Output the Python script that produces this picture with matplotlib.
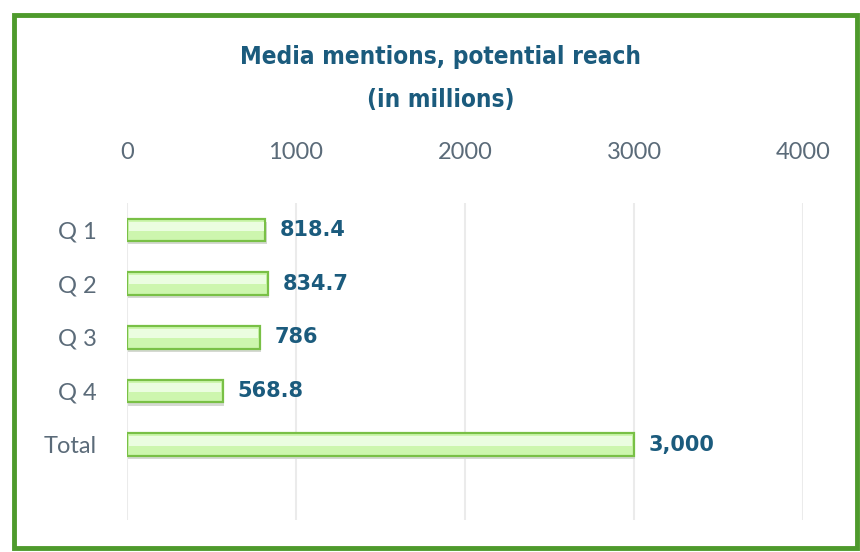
import matplotlib.pyplot as plt
from matplotlib.patches import Rectangle

categories = ['Q 1', 'Q 2', 'Q 3', 'Q 4', 'Total']
reach = [818.4, 834.7, 786, 568.8, 3000]
value_labels = ['818.4', '834.7', '786', '568.8', '3,000']
x_ticks = [0, 1000, 2000, 3000, 4000]

title_color = '#1b5b7d'
tick_color = '#5b6b79'

fig = plt.figure(figsize=(8.6, 5.52), dpi=100)
fig.patch.set_facecolor('white')

# green frame around the whole chart
frame = Rectangle((14 / 860, 4 / 552), 843 / 860, 533 / 552, transform=fig.transFigure,
                  fill=False, edgecolor='#4e9a2c', linewidth=3.5)
fig.patches.append(frame)

ax = fig.add_axes([127 / 860, 32 / 552, 676 / 860, 317 / 552])

ypos = list(range(len(categories)))
# soft shadow under bars
ax.barh([y + 0.06 for y in ypos], reach, height=0.42, left=8,
        color='#d5d9d2', zorder=2)
ax.barh(ypos, reach, height=0.42, color='#cdf6ae', edgecolor='#79c046',
        linewidth=1.6, zorder=3)
# lighter highlight band on top half of each bar
ax.barh([y - 0.07 for y in ypos], [r - 20 for r in reach], height=0.17, left=10,
        color='#ebfde0', zorder=4)

for y, val, lab in zip(ypos, reach, value_labels):
    ax.text(val + 85, y, lab, va='center', ha='left', fontsize=15,
            fontweight='bold', color=title_color, family='DejaVu Sans', zorder=5)

ax.set_xlim(0, 4000)
ax.set_ylim(5.4, -0.5)
ax.set_xticks(x_ticks)
ax.set_xticklabels([str(t) for t in x_ticks])
ax.set_yticks(ypos)
ax.set_yticklabels(categories)
ax.xaxis.tick_top()
ax.tick_params(axis='x', length=0, pad=29, labelsize=17, labelcolor=tick_color)
ax.tick_params(axis='y', length=0, pad=22, labelsize=17, labelcolor=tick_color)
for lab in ax.get_xticklabels() + ax.get_yticklabels():
    lab.set_family('Lato')

ax.grid(axis='x', color='#ebebeb', linewidth=1.5, zorder=0)
ax.set_axisbelow(True)
for s in ax.spines.values():
    s.set_visible(False)

for txt, ypx in [('Media mentions, potential reach', 57), ('(in millions)', 100)]:
    fig.text(0.512, 1 - ypx / 552, txt, ha='center', va='center',
             fontsize=17.5, fontweight='bold', fontstretch='condensed', color=title_color,
             family='DejaVu Sans')

fig.savefig('out.png', dpi=100)
